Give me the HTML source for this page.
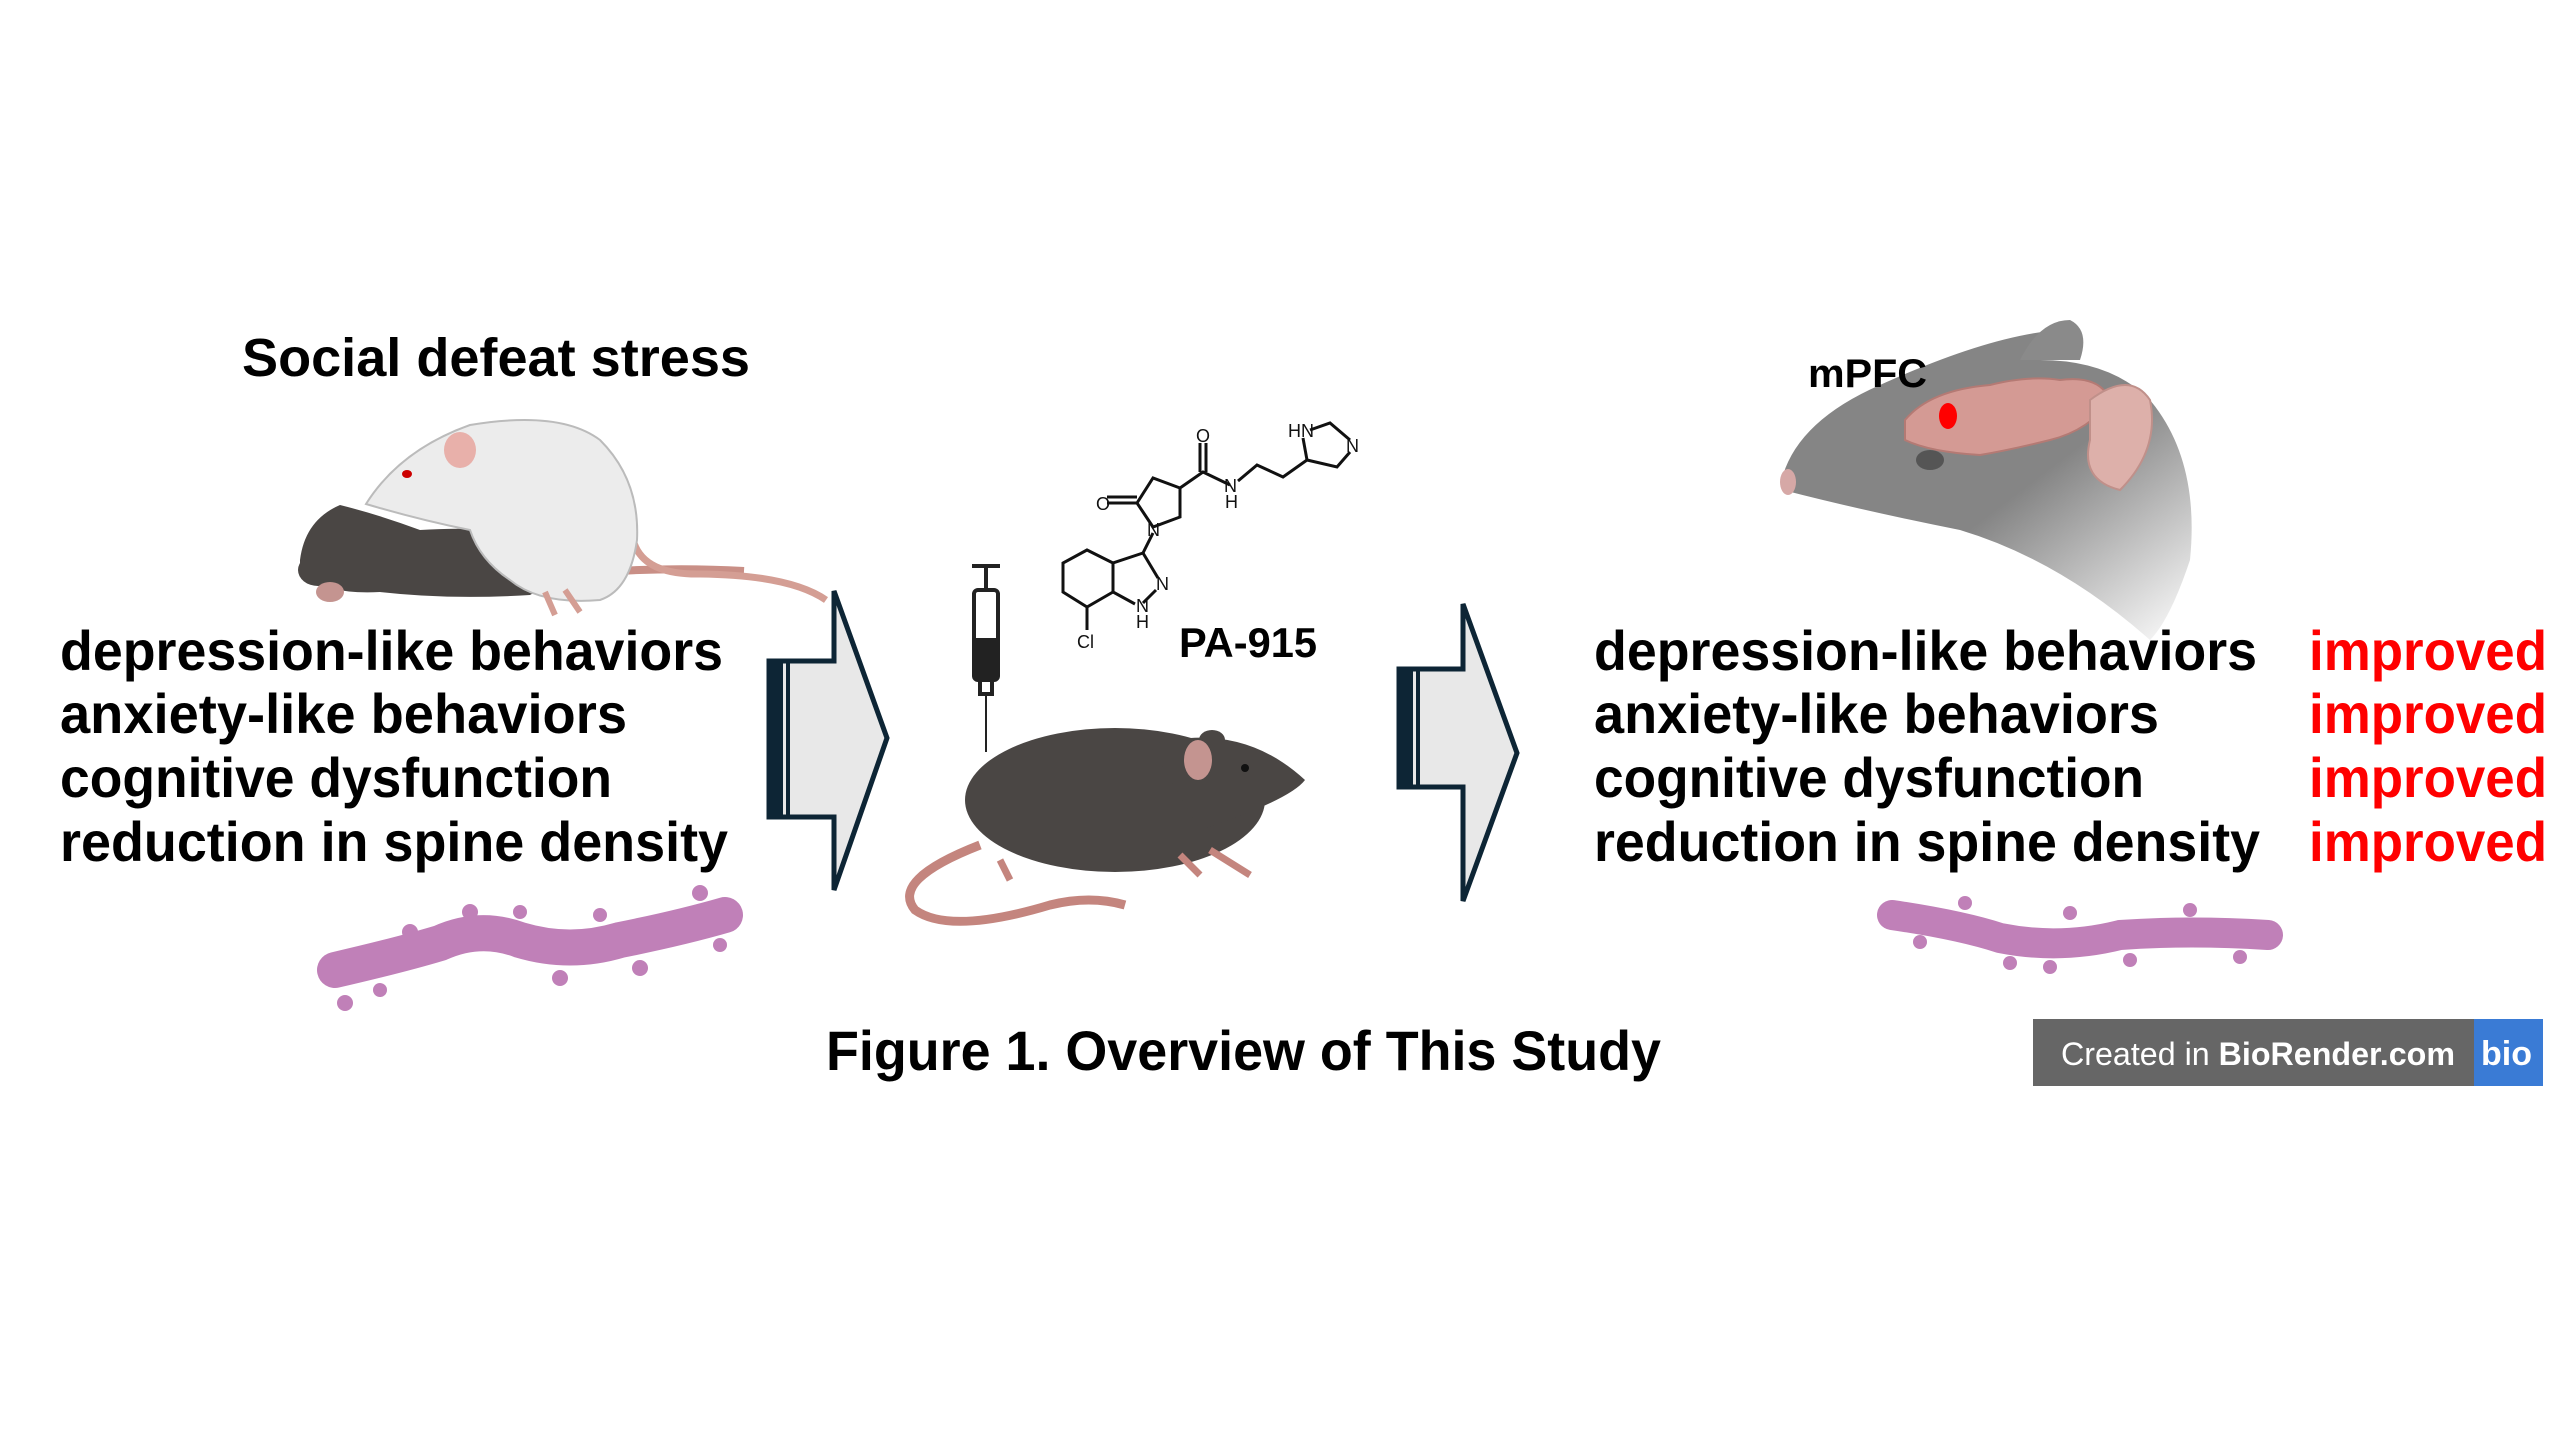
<!DOCTYPE html>
<html><head><meta charset="utf-8"><style>
html,body{margin:0;padding:0;background:#fff;}
svg{display:block;}
text{font-family:"Liberation Sans","Noto Sans CJK JP",sans-serif;}
</style></head><body>
<svg width="2560" height="1440" viewBox="0 0 2560 1440" xmlns="http://www.w3.org/2000/svg">
<rect width="2560" height="1440" fill="#fff"/>

<text x="242" y="376" font-size="54" font-weight="bold" textLength="508" lengthAdjust="spacingAndGlyphs">Social defeat stress</text>

<g font-size="56" font-weight="bold" fill="#000">
<text x="60" y="670" textLength="663" lengthAdjust="spacingAndGlyphs">depression-like behaviors</text>
<text x="60" y="733" textLength="567" lengthAdjust="spacingAndGlyphs">anxiety-like behaviors</text>
<text x="60" y="797" textLength="552" lengthAdjust="spacingAndGlyphs">cognitive dysfunction</text>
<text x="60" y="861" textLength="668" lengthAdjust="spacingAndGlyphs">reduction in spine density</text>
</g>

<!-- Rats -->
<g>
<path d="M530,579 Q640,565 744,571" stroke="#c98f86" stroke-width="8" fill="none"/>
<path d="M300,560 Q305,520 340,505 Q380,515 420,530 Q500,525 540,540 Q560,580 530,595 Q450,600 380,592 Q330,595 300,575 Z" fill="#4a4644"/>
<ellipse cx="318" cy="570" rx="20" ry="16" fill="#4a4644"/>
<ellipse cx="330" cy="592" rx="14" ry="10" fill="#c49490"/>
<path d="M634,543 Q645,575 700,574 Q790,575 826,600" stroke="#d49e94" stroke-width="7" fill="none"/>
<path d="M366,504 Q400,450 470,425 Q560,410 600,440 Q640,480 637,540 Q630,590 600,600 Q540,605 510,580 Q480,560 470,530 Q420,520 366,504 Z" fill="#ececec" stroke="#bbb" stroke-width="2"/>
<ellipse cx="460" cy="450" rx="16" ry="18" fill="#e8b0aa"/>
<ellipse cx="407" cy="474" rx="5" ry="4" fill="#c00"/>
<path d="M545,592 L555,615 M565,590 L580,612" stroke="#d49e94" stroke-width="6"/>
</g>

<!-- Left spine -->
<path d="M335,970 Q400,955 440,943 Q480,925 520,940 Q570,955 620,940 Q680,928 725,915" stroke="#c080b8" stroke-width="36" fill="none" stroke-linecap="round"/>
<g fill="#c080b8">
<circle cx="345" cy="1003" r="8"/><circle cx="410" cy="932" r="8"/><circle cx="470" cy="912" r="8"/><circle cx="560" cy="978" r="8"/><circle cx="640" cy="968" r="8"/><circle cx="700" cy="893" r="8"/><circle cx="720" cy="945" r="7"/><circle cx="600" cy="915" r="7"/><circle cx="380" cy="990" r="7"/><circle cx="520" cy="912" r="7"/>
</g>

<!-- Left arrow -->
<path d="M769,661 L834,661 L834,591 L887,738 L834,890 L834,817 L769,817 Z" fill="#e8e8e8" stroke="#0d2535" stroke-width="5"/>
<rect x="769" y="661" width="14" height="156" fill="#0d2535"/>
<rect x="786" y="661" width="4" height="156" fill="#0d2535"/>

<!-- Syringe -->
<g stroke="#222" stroke-width="4" fill="none">
<line x1="972" y1="566" x2="1000" y2="566"/>
<line x1="986" y1="566" x2="986" y2="590"/>
<rect x="974" y="590" width="24" height="90" rx="4" fill="#fff"/>
<rect x="977" y="640" width="18" height="38" fill="#222"/>
<rect x="980" y="680" width="12" height="14"/>
<line x1="986" y1="694" x2="986" y2="752" stroke-width="2"/>
</g>

<!-- Chemical structure -->
<g stroke="#111" stroke-width="3" fill="none">
<polyline points="1107,503 1137,503"/>
<polyline points="1107,497 1137,497"/>
<polyline points="1137,503 1153,478 1180,488 1180,517 1153,527 1137,503"/>
<polyline points="1180,488 1203,472 1230,485"/>
<line x1="1200" y1="472" x2="1200" y2="443"/><line x1="1206" y1="472" x2="1206" y2="443"/>
<polyline points="1238,481 1257,465 1283,477 1307,460"/>
<polyline points="1307,460 1303,438"/><polyline points="1310,430 1330,423 1350,440"/><polyline points="1350,452 1337,467 1307,460"/>
<line x1="1153" y1="533" x2="1143" y2="553"/>
<polyline points="1143,553 1158,578"/><polyline points="1156,590 1143,603"/>
<polyline points="1135,604 1113,592 1113,563 1143,553"/>
<polyline points="1113,563 1087,550 1063,563 1063,592 1087,607 1113,592"/>
<line x1="1087" y1="607" x2="1087" y2="630"/>
</g>
<g font-size="18" fill="#111">
<text x="1096" y="510">O</text><text x="1147" y="536">N</text><text x="1196" y="442">O</text>
<text x="1224" y="492">N</text><text x="1225" y="508">H</text>
<text x="1288" y="437">HN</text><text x="1346" y="452">N</text>
<text x="1156" y="590">N</text><text x="1136" y="612">N</text><text x="1136" y="628">H</text>
<text x="1077" y="648">Cl</text>
</g>
<text x="1179" y="657" font-size="42" font-weight="bold" textLength="138" lengthAdjust="spacingAndGlyphs">PA-915</text>

<!-- Mouse -->
<path d="M980,845 Q890,880 915,910 Q950,935 1050,905 Q1090,895 1125,905" stroke="#c4857e" stroke-width="9" fill="none"/>
<ellipse cx="1115" cy="800" rx="150" ry="72" fill="#4a4644"/>
<path d="M1150,745 Q1240,720 1305,780 Q1290,800 1200,830 Z" fill="#4a4644"/>
<ellipse cx="1212" cy="740" rx="13" ry="10" fill="#4a4644"/>
<ellipse cx="1198" cy="760" rx="14" ry="20" fill="#c49490"/>
<circle cx="1245" cy="768" r="4" fill="#111"/>
<path d="M1000,860 L1010,880 M1180,855 L1200,875 M1210,850 L1250,875" stroke="#c4857e" stroke-width="7"/>

<!-- Right arrow -->
<path d="M1399,669 L1463,669 L1463,604 L1517,753 L1463,901 L1463,787 L1399,787 Z" fill="#e8e8e8" stroke="#0d2535" stroke-width="5"/>
<rect x="1399" y="669" width="14" height="118" fill="#0d2535"/>
<rect x="1416" y="669" width="4" height="118" fill="#0d2535"/>

<!-- Mouse head -->
<defs>
<linearGradient id="hg" x1="0" y1="0" x2="1" y2="1">
<stop offset="0.55" stop-color="#858585"/><stop offset="1" stop-color="#858585" stop-opacity="0"/>
</linearGradient>
</defs>
<path d="M1783,475 Q1800,420 1880,385 Q1990,335 2060,330 L2040,360 Q2110,360 2150,400 Q2200,460 2190,560 Q2170,620 2150,640 Q2060,560 1960,530 Q1860,510 1783,490 Z" fill="url(#hg)"/>
<path d="M2020,360 Q2040,320 2070,320 Q2090,330 2080,360 Z" fill="#8a8a8a"/>
<ellipse cx="1788" cy="482" rx="8" ry="13" fill="#d6a8a6"/>
<path d="M1905,420 Q1930,390 1990,385 Q2030,375 2060,380 Q2100,375 2110,400 Q2090,430 2050,440 Q2010,450 1980,455 Q1930,452 1905,440 Z" fill="#d49a94" stroke="#b47a74" stroke-width="2"/>
<path d="M2090,400 Q2130,370 2150,400 Q2160,450 2120,490 Q2080,480 2090,440 Z" fill="#ddb0aa" stroke="#c0908a" stroke-width="2"/>
<ellipse cx="1948" cy="416" rx="9" ry="13" fill="#ff0000"/>
<ellipse cx="1930" cy="460" rx="14" ry="10" fill="#555"/>
<text x="1808" y="387" font-size="40" font-weight="bold" textLength="119" lengthAdjust="spacingAndGlyphs">mPFC</text>

<g font-size="56" font-weight="bold" fill="#000">
<text x="1594" y="670" textLength="663" lengthAdjust="spacingAndGlyphs">depression-like behaviors</text>
<text x="1594" y="733" textLength="565" lengthAdjust="spacingAndGlyphs">anxiety-like behaviors</text>
<text x="1594" y="797" textLength="550" lengthAdjust="spacingAndGlyphs">cognitive dysfunction</text>
<text x="1594" y="861" textLength="666" lengthAdjust="spacingAndGlyphs">reduction in spine density</text>
</g>
<g font-size="56" font-weight="bold" fill="#ff0000">
<text x="2309" y="670" textLength="238" lengthAdjust="spacingAndGlyphs">improved</text>
<text x="2309" y="733" textLength="238" lengthAdjust="spacingAndGlyphs">improved</text>
<text x="2309" y="797" textLength="238" lengthAdjust="spacingAndGlyphs">improved</text>
<text x="2309" y="861" textLength="238" lengthAdjust="spacingAndGlyphs">improved</text>
</g>

<!-- Right spine -->
<path d="M1892,915 Q1960,925 2000,938 Q2060,950 2120,935 Q2190,930 2268,935" stroke="#c080b8" stroke-width="30" fill="none" stroke-linecap="round"/>
<g fill="#c080b8">
<circle cx="1920" cy="942" r="7"/><circle cx="1965" cy="903" r="7"/><circle cx="2010" cy="963" r="7"/><circle cx="2070" cy="913" r="7"/><circle cx="2130" cy="960" r="7"/><circle cx="2190" cy="910" r="7"/><circle cx="2240" cy="957" r="7"/><circle cx="2050" cy="967" r="7"/>
</g>

<text x="826" y="1070" font-size="56" font-weight="bold" textLength="835" lengthAdjust="spacingAndGlyphs">Figure 1. Overview of This Study</text>

<rect x="2033" y="1019" width="510" height="67" fill="#666"/>
<rect x="2474" y="1019" width="69" height="67" fill="#3a7bd5"/>
<text x="2061" y="1065" font-size="32" fill="#fff" textLength="394" lengthAdjust="spacingAndGlyphs">Created in <tspan font-weight="bold">BioRender.com</tspan></text>
<text x="2481" y="1065" font-size="34" font-weight="bold" fill="#fff">bio</text>
</svg>
</body></html>
